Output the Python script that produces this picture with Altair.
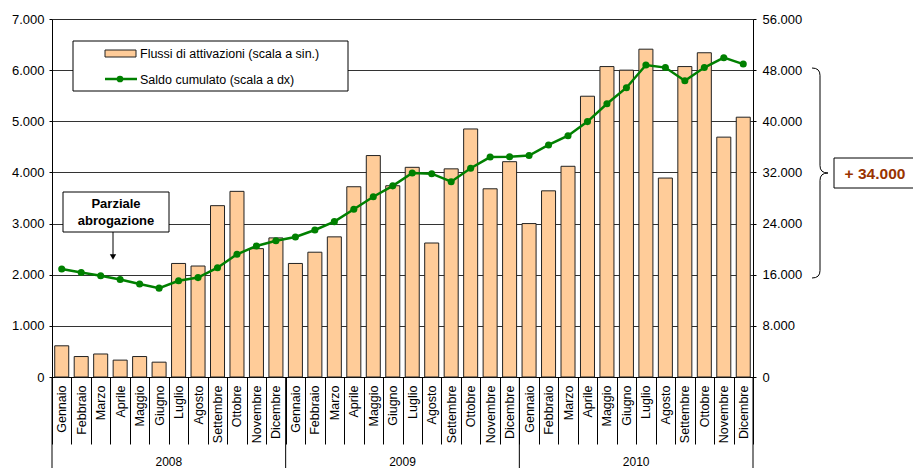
import altair as alt
import pandas as pd

# Monthly activation flows (left scale) and cumulative balance (right scale)
mesi = ["Gennaio", "Febbraio", "Marzo", "Aprile", "Maggio", "Giugno",
        "Luglio", "Agosto", "Settembre", "Ottobre", "Novembre", "Dicembre"]
anni = ["2008", "2009", "2010"]

flussi = [610, 400, 450, 330, 400, 290, 2220, 2170, 3350, 3630, 2510, 2720,
          2220, 2440, 2740, 3720, 4330, 3740, 4100, 2620, 4070, 4850, 3680, 4210,
          3000, 3640, 4120, 5490, 6070, 6000, 6410, 3890, 6070, 6340, 4690, 5080]

saldo = [16900, 16350, 15850, 15250, 14550, 13900, 15050, 15550, 17100, 19200, 20500, 21300,
         21900, 23000, 24300, 26250, 28200, 29900, 31900, 31800, 30550, 32650, 34400, 34450,
         34650, 36300, 37750, 39950, 42750, 45250, 48800, 48400, 46350, 48400, 49950, 48950]

voci_legenda = ["Flussi di attivazioni (scala a sin.)", "Saldo cumulato (scala a dx)"]
nota = ["Parziale", "abrogazione"]
variazione = "+ 34.000"

chiavi = [f"{m} {a}" for a in anni for m in mesi]
df = pd.DataFrame({"mese": chiavi, "flussi": flussi, "saldo": saldo})
inizi_anno = pd.DataFrame({"mese": [f"Gennaio {a}" for a in anni]})
centri_anno = pd.DataFrame({"mese": [f"Luglio {a}" for a in anni], "anno": anni})
uno = pd.DataFrame({"k": [0]})

FONT = "Liberation Sans"
W, H = 701, 358
PEACH = "#FFCC99"
GREEN = "#008000"
DOT_FMT = "replace(format(datum.value, ','), ',', '.')"

x_axis = alt.Axis(
    title=None, labelExpr="split(datum.label, ' ')[0]", labelAngle=270,
    labelAlign="right", labelBaseline="middle", tickBand="extent",
    tickSize=67, labelPadding=-59, tickColor="#000", domainColor="#000",
    labelFont=FONT, labelFontSize=12.5, labelColor="#000", grid=False,
)
x_scale = alt.Scale(domain=chiavi, paddingInner=0, paddingOuter=0)


def xenc(**kw):
    return alt.X("mese:N", sort=chiavi, scale=x_scale, axis=x_axis, **kw)


bars = alt.Chart(df).mark_bar(
    fill=PEACH, stroke="#222", strokeWidth=1, width=alt.RelativeBandSize(0.72)
).encode(
    x=xenc(),
    y=alt.Y("flussi:Q", scale=alt.Scale(domain=[0, 7000], nice=False),
            axis=alt.Axis(title=None, orient="left", values=list(range(0, 7001, 1000)),
                          labelExpr=DOT_FMT, grid=True, gridColor="#000", gridOpacity=0.8,
                          tickSize=3, tickColor="#000", domainColor="#000",
                          labelPadding=5, labelFont=FONT, labelFontSize=13,
                          labelColor="#000")),
)

y_right = alt.Y("saldo:Q", scale=alt.Scale(domain=[0, 56000], nice=False),
                axis=alt.Axis(title=None, orient="right", values=list(range(0, 56001, 8000)),
                              labelExpr=DOT_FMT, grid=False, tickSize=3, tickColor="#000",
                              domainColor="#000", labelPadding=6, labelFont=FONT,
                              labelFontSize=13, labelColor="#000"))

line = alt.Chart(df).mark_line(color=GREEN, strokeWidth=2.5).encode(x=xenc(), y=y_right)
dots = alt.Chart(df).mark_circle(color=GREEN, size=50, opacity=1).encode(x=xenc(), y=y_right)
saldo_layer = alt.layer(line, dots)

# long separators between years and year labels under the month labels
sep_anni = alt.Chart(inizi_anno).mark_rule(color="#000", strokeWidth=1).encode(
    x=xenc(bandPosition=0), y=alt.value(H), y2=alt.value(H + 91))
sep_fine = alt.Chart(uno).mark_rule(color="#000", strokeWidth=1).encode(
    x=alt.value(W), y=alt.value(H), y2=alt.value(H + 91))
etichette_anni = alt.Chart(centri_anno).mark_text(
    font=FONT, fontSize=12, baseline="middle", color="#000"
).encode(x=xenc(bandPosition=0), y=alt.value(H + 85), text="anno:N")

# legend box
leg_box = alt.Chart(uno).mark_rect(fill="white", stroke="#000", strokeWidth=1).encode(
    x=alt.value(21), x2=alt.value(296), y=alt.value(22), y2=alt.value(72))
leg_swatch = alt.Chart(uno).mark_rect(fill=PEACH, stroke="#222", strokeWidth=1).encode(
    x=alt.value(53), x2=alt.value(84), y=alt.value(31), y2=alt.value(38))
leg_line = alt.Chart(uno).mark_rule(color=GREEN, strokeWidth=2.5).encode(
    x=alt.value(53), x2=alt.value(85), y=alt.value(60))
leg_dot = alt.Chart(uno).mark_circle(color=GREEN, size=45, opacity=1).encode(
    x=alt.value(68), y=alt.value(60))
leg_t1 = alt.Chart(uno).mark_text(font=FONT, fontSize=12.5, align="left", baseline="middle",
                                  color="#000").encode(
    x=alt.value(88), y=alt.value(35), text=alt.value(voci_legenda[0]))
leg_t2 = alt.Chart(uno).mark_text(font=FONT, fontSize=12.5, align="left", baseline="middle",
                                  color="#000").encode(
    x=alt.value(88), y=alt.value(61), text=alt.value(voci_legenda[1]))

# "Parziale abrogazione" callout with arrow
nota_box = alt.Chart(uno).mark_rect(fill="white", stroke="#000", strokeWidth=1).encode(
    x=alt.value(11), x2=alt.value(117), y=alt.value(173), y2=alt.value(213))
nota_t1 = alt.Chart(uno).mark_text(font=FONT, fontSize=13, fontWeight="bold",
                                   baseline="middle", color="#000").encode(
    x=alt.value(64), y=alt.value(185), text=alt.value(nota[0]))
nota_t2 = alt.Chart(uno).mark_text(font=FONT, fontSize=13, fontWeight="bold",
                                   baseline="middle", color="#000").encode(
    x=alt.value(64), y=alt.value(201.5), text=alt.value(nota[1]))
freccia = alt.Chart(uno).mark_rule(color="#000", strokeWidth=1).encode(
    x=alt.value(61), y=alt.value(213), y2=alt.value(236))
punta = alt.Chart(uno).mark_point(shape="triangle-down", filled=True, color="#000",
                                  size=40, opacity=1).encode(
    x=alt.value(61), y=alt.value(238))

# brace spanning the cumulative gain, and its label
BRACE = ("M-0.076,-1 Q0,-1 0,-0.93 L0,-0.07 Q0,0 0.076,0 "
         "Q0,0 0,0.07 L0,0.93 Q0,1 -0.076,1")
graffa = alt.Chart(uno).mark_point(shape=BRACE, filled=False, stroke="#000",
                                   strokeWidth=1, size=210 * 210, opacity=1).encode(
    x=alt.value(768), y=alt.value(154))
var_box = alt.Chart(uno).mark_rect(fill="white", stroke="#000", strokeWidth=1).encode(
    x=alt.value(782), x2=alt.value(863), y=alt.value(139), y2=alt.value(169))
var_t = alt.Chart(uno).mark_text(font=FONT, fontSize=15.5, fontWeight="bold",
                                 baseline="middle", color="#993300").encode(
    x=alt.value(823), y=alt.value(154.5), text=alt.value(variazione))

chart = alt.layer(
    bars, saldo_layer, sep_anni, sep_fine, etichette_anni,
    leg_box, leg_swatch, leg_line, leg_dot, leg_t1, leg_t2,
    nota_box, nota_t1, nota_t2, freccia, punta,
    graffa, var_box, var_t,
).resolve_scale(y="independent").properties(
    width=W, height=H,
    padding={"left": 52, "top": 19, "right": 160, "bottom": 91},
    autosize=alt.AutoSizeParams(type="none"),
).configure_view(stroke=None).configure(background="white")

chart.save("out.html", embed_options={"renderer": "svg", "actions": False})
